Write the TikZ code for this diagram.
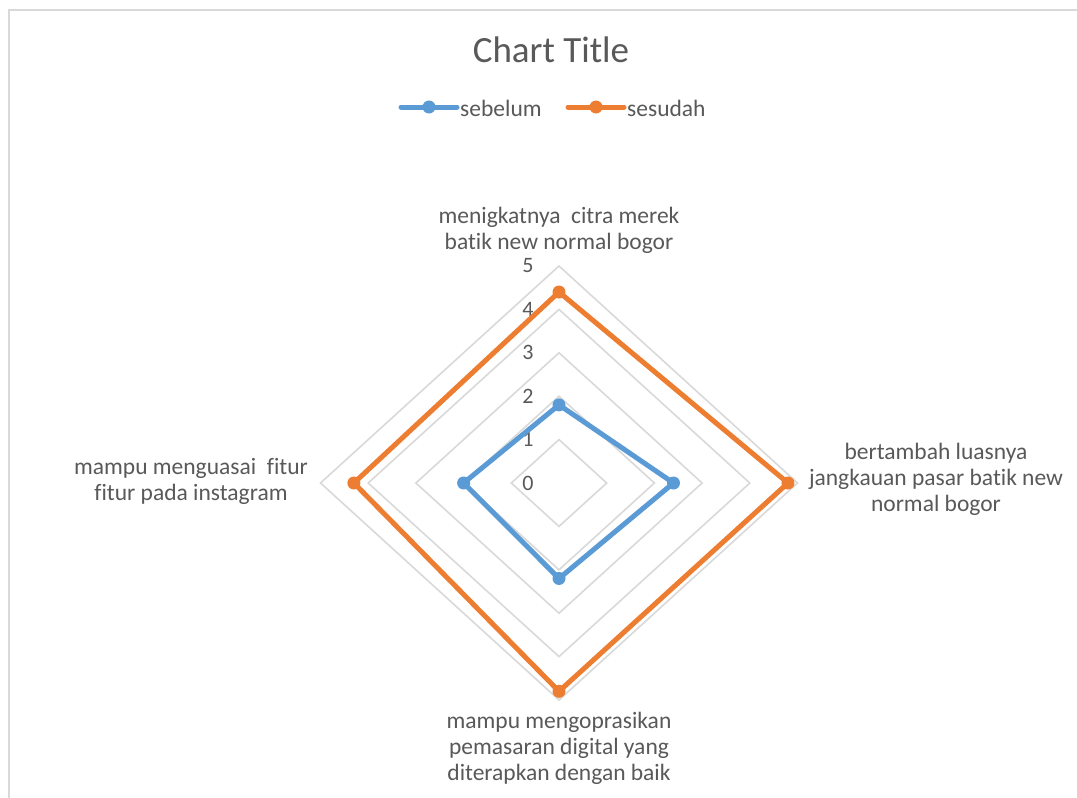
\documentclass[tikz,border=0pt]{standalone}
\usepackage{fontspec}
\setmainfont{Carlito}[Ligatures=NoCommon]
\usetikzlibrary{positioning}
\definecolor{serblue}{HTML}{5B9BD5}
\definecolor{serorange}{HTML}{ED7D31}
\definecolor{txtgray}{HTML}{595959}
\definecolor{gridgray}{HTML}{D9D9D9}

\begin{document}
\begin{tikzpicture}[
    x=1pt, y=-1pt,
    grid/.style={draw=gridgray, line width=1.6pt},
    series/.style={line width=5pt, line join=round},
    marker/.style={circle, fill=#1, inner sep=0pt, minimum size=13pt},
    axlabel/.style={align=center, text=txtgray, inner sep=0pt, font=\fontsize{23.5}{26}\selectfont},
    tick/.style={text=txtgray, inner sep=0pt, font=\fontsize{22}{24}\selectfont},
    legtext/.style={text=txtgray, inner sep=1pt, anchor=west, font=\fontsize{23.5}{26}\selectfont}
]
\fill[white] (0,0) rectangle (1077,798);
\useasboundingbox (0,0) rectangle (1077,798);
\draw[gridgray, line width=1.5pt] (9,10) rectangle (1100,820);

% title and legend
\node[text=txtgray, font=\fontsize{37}{40}\selectfont] (title) at (551,50) {Chart Title};

\node[marker=serblue] (lgb) at (429,107) {};
\coordinate (lgb1) at (401,107);
\coordinate (lgb2) at (457,107);
\draw[series, serblue, line cap=round] (lgb1) -- (lgb2);
\node[legtext] (lgbtxt) at (459,108) {sebelum};

\node[marker=serorange] (lgo) at (596,107) {};
\coordinate (lgo1) at (568,107);
\coordinate (lgo2) at (624,107);
\draw[series, serorange, line cap=round] (lgo1) -- (lgo2);
\node[legtext] (lgotxt) at (626,108) {sesudah};

% grid
\coordinate (c) at (559,483);
\foreach \r in {1,...,5}
  \draw[grid] (559+\r*47.7,483) -- (559,483-\r*43.4) -- (559-\r*47.7,483) -- (559,483+\r*43.4) -- cycle;
\foreach \r in {0,...,5}
  \node[tick] (t\r) at (528,483-\r*43.4) {\r};

% axis labels
\node[axlabel] (citra) at (559,230) {menigkatnya\ \ citra merek\\batik new normal bogor};
\node[axlabel] (pasar) at (936,479) {bertambah luasnya\\jangkauan pasar batik new\\normal bogor};
\node[axlabel] (digital) at (559,748) {mampu mengoprasikan\\pemasaran digital yang\\diterapkan dengan baik};
\node[axlabel] (insta) at (191,481) {mampu menguasai\ \ fitur\\fitur pada instagram};

% sebelum
\coordinate (b1) at (559,483-1.8*43.4);
\coordinate (b2) at (559+2.4*47.7,483);
\coordinate (b3) at (559,483+2.2*43.4);
\coordinate (b4) at (559-2.0*47.7,483);
\draw[series, serblue] (b1) -- (b2) -- (b3) -- (b4) -- cycle;
\foreach \p in {b1,b2,b3,b4}
  \node[marker=serblue] at (\p) {};

% sesudah
\coordinate (s1) at (559,483-4.4*43.4);
\coordinate (s2) at (559+4.8*47.7,483);
\coordinate (s3) at (559,483+4.8*43.4);
\coordinate (s4) at (559-4.3*47.7,483);
\draw[series, serorange] (s1) -- (s2) -- (s3) -- (s4) -- cycle;
\foreach \p in {s1,s2,s3,s4}
  \node[marker=serorange] at (\p) {};
\end{tikzpicture}
\end{document}
